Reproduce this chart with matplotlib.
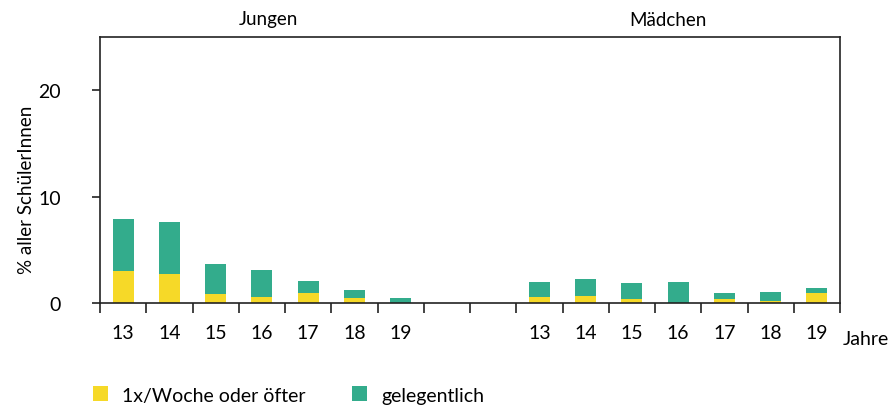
import matplotlib
matplotlib.use("Agg")
import matplotlib.pyplot as plt
from matplotlib.patches import Patch

plt.rcParams['font.family'] = ['Lato', 'DejaVu Sans']

ages = ["13", "14", "15", "16", "17", "18", "19"]
groups = ["Jungen", "Mädchen"]
# weekly or more often (yellow)
jungen_weekly = [3.0, 2.7, 0.8, 0.6, 0.9, 0.5, 0.0]
jungen_total = [7.9, 7.6, 3.7, 3.1, 2.1, 1.2, 0.5]
maedchen_weekly = [0.55, 0.65, 0.35, 0.0, 0.35, 0.15, 0.9]
maedchen_total = [1.95, 2.25, 1.85, 1.95, 0.9, 1.0, 1.45]
labels_series = ["1x/Woche oder öfter", "gelegentlich"]

c_yellow = "#F6D928"
c_green = "#33AC8C"

fig = plt.figure(figsize=(8.9, 4.06), dpi=100)
ax = fig.add_axes([100/890, 1-304/406, 740/890, (304-38)/406])

n = len(ages)
pos_j = [i + 0.5 for i in range(n)]
pos_m = [i + 9.5 for i in range(n)]
w = 0.45
for pos, weekly, total in [(pos_j, jungen_weekly, jungen_total), (pos_m, maedchen_weekly, maedchen_total)]:
    occ = [t - wk for t, wk in zip(total, weekly)]
    ax.bar(pos, weekly, width=w, color=c_yellow, linewidth=0)
    ax.bar(pos, occ, width=w, bottom=weekly, color=c_green, linewidth=0)

ax.set_xlim(0, 16)
ax.set_ylim(0, 25)
ax.set_yticks([0, 10, 20])
ax.set_yticklabels(["0", "10", "20"], fontsize=14)
ax.set_xticks(range(0, 17))
ax.set_xticklabels([])
ax.set_xticks(pos_j + pos_m, minor=True)
ax.set_xticklabels(ages + ages, minor=True, fontsize=14)
ax.tick_params(axis='x', which='major', direction='out', length=7, width=1.2, color='#222222')
ax.tick_params(axis='x', which='minor', length=0, pad=15)
ax.tick_params(axis='y', direction='out', length=6, width=1.2, color='#222222', pad=22)
for s in ax.spines.values():
    s.set_linewidth(1.2)
    s.set_color('#222222')

ax.set_ylabel("% aller SchülerInnen", fontsize=13.5)
ax.yaxis.set_label_coords(-0.088, 0.43)

fig.text(268/890, 1-20/406, groups[0], ha='center', va='center', fontsize=13.5)
fig.text(668/890, 1-20/406, groups[1], ha='center', va='center', fontsize=13.5)
fig.text(843/890, 1-340/406, "Jahre", ha='left', va='center', fontsize=14)

handles = [Patch(facecolor=c_yellow, edgecolor='none'), Patch(facecolor=c_green, edgecolor='none')]
fig.legend(handles, labels_series, loc='center left', bbox_to_anchor=(75/890, 1-396/406),
           ncol=2, frameon=False, fontsize=14, handlelength=0.8, handleheight=0.8,
           columnspacing=2.4, handletextpad=0.7)

fig.savefig("out.png", dpi=100)
